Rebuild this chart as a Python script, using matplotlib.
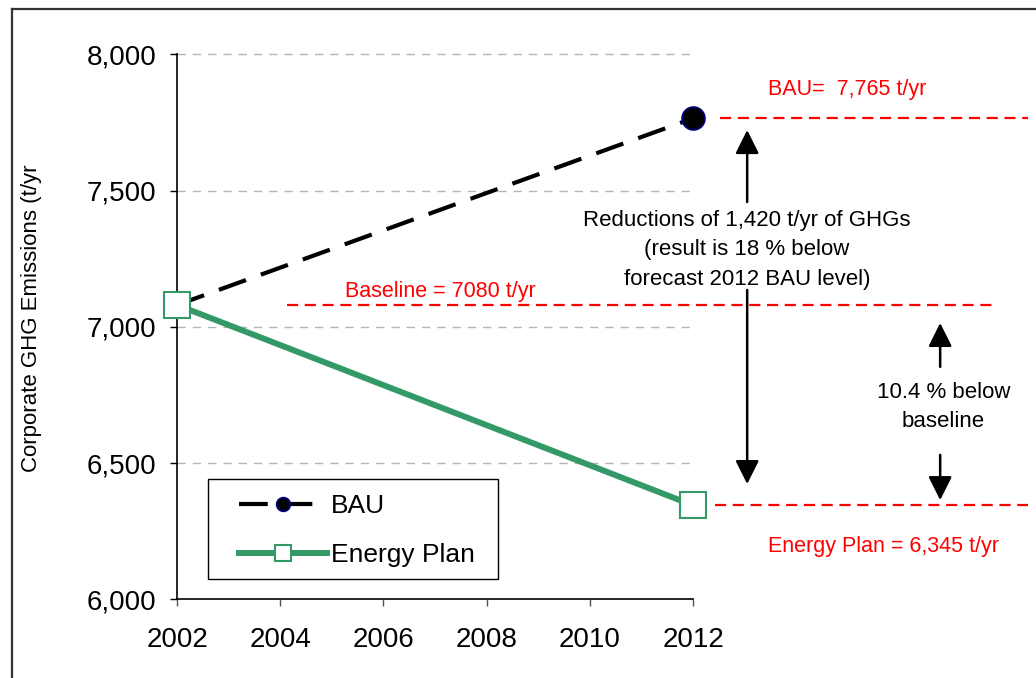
import matplotlib
matplotlib.use('Agg')
import matplotlib.pyplot as plt
from matplotlib.lines import Line2D
from matplotlib.patches import Rectangle
from matplotlib.ticker import FuncFormatter

plt.rcParams['font.family'] = ['Liberation Sans', 'DejaVu Sans']

# data
years = [2002, 2012]
bau = [7080, 7765]
plan = [7080, 6345]
baseline = 7080
y_ticks = [6000, 6500, 7000, 7500, 8000]
x_ticks = [2002, 2004, 2006, 2008, 2010, 2012]

W, H = 1036, 678
fig = plt.figure(figsize=(W / 100, H / 100), dpi=100)
ax = fig.add_axes([177 / W, 1 - 599.3 / H, (693 - 177) / W, (599.3 - 54.3) / H])

# outer frame of the original chart (cropped on right and bottom)
fig.add_artist(Line2D([12 / W, 12 / W], [1 - 9 / H, 0], transform=fig.transFigure,
                      color='#333333', lw=1.6))
fig.add_artist(Line2D([12 / W, 1], [1 - 9 / H, 1 - 9 / H], transform=fig.transFigure,
                      color='#333333', lw=1.6))

ax.set_xlim(2002, 2012)
ax.set_ylim(6000, 8000)

# gridlines
for v in y_ticks[1:]:
    ax.axhline(v, color='#b4b4b4', lw=1, dashes=(6, 5), zorder=0, clip_on=False)

# series
ax.plot(years, bau, color='black', lw=3.0, dashes=(6.9, 3.8), marker='o', markersize=16.5,
        markerfacecolor='black', markeredgecolor='#000080', markeredgewidth=1.2,
        label='BAU', clip_on=False, zorder=3)
ax.plot(years, plan, color='#339966', lw=4.3, marker='s', markersize=19,
        markerfacecolor='white', markeredgecolor='#339966', markeredgewidth=1.5,
        label='Energy Plan', clip_on=False, zorder=4)

# red reference lines
red_dash = dict(color='red', lw=1.6, dashes=(5, 3), clip_on=False, zorder=2)
ax.plot([2012.52, 2018.49], [bau[1], bau[1]], **red_dash)
ax.plot([2004.13, 2017.81], [baseline, baseline], **red_dash)
ax.plot([2012.43, 2018.49], [plan[1], plan[1]], **red_dash)

ax.text(2013.45, 7870, 'BAU=  7,765 t/yr', color='red', fontsize=15.5,
        ha='left', va='center', clip_on=False)
ax.text(2005.26, 7128, 'Baseline = 7080 t/yr', color='red', fontsize=15.5,
        ha='left', va='center', clip_on=False)
ax.text(2013.45, 6192, 'Energy Plan = 6,345 t/yr', color='red', fontsize=15.5,
        ha='left', va='center', clip_on=False)

# arrows and notes
arr = dict(arrowstyle='-|>,head_length=0.9,head_width=0.45', color='black', lw=1.8,
           mutation_scale=16, shrinkA=0, shrinkB=0)
ax.annotate('', xy=(2013.05, 7722), xytext=(2013.05, 7458), arrowprops=arr, annotation_clip=False)
ax.annotate('', xy=(2013.05, 6423), xytext=(2013.05, 7135), arrowprops=arr, annotation_clip=False)
ax.annotate('', xy=(2016.79, 7014), xytext=(2016.79, 6853), arrowprops=arr, annotation_clip=False)
ax.annotate('', xy=(2016.79, 6364), xytext=(2016.79, 6530), arrowprops=arr, annotation_clip=False)

ax.text(2013.05, 7283, 'Reductions of 1,420 t/yr of GHGs\n(result is 18 % below\nforecast 2012 BAU level)',
        ha='center', va='center', fontsize=16, linespacing=1.53, clip_on=False)
ax.text(2016.85, 6706, '10.4 % below\nbaseline', ha='center', va='center',
        fontsize=16, linespacing=1.53, clip_on=False)

# axes styling
for s in ['top', 'right']:
    ax.spines[s].set_visible(False)
ax.spines['left'].set_linewidth(1.2)
ax.spines['bottom'].set_linewidth(1.2)
ax.set_yticks(y_ticks)
ax.set_xticks(x_ticks)
ax.yaxis.set_major_formatter(FuncFormatter(lambda v, p: '{:,.0f}'.format(v)))
ax.tick_params(axis='y', direction='out', length=5, width=1, labelsize=20, pad=10)
ax.tick_params(axis='x', direction='out', length=5, width=1, color='#555555',
               labelsize=20, pad=15)

fig.text(32 / W, 1 - 318 / H, 'Corporate GHG Emissions (t/yr', rotation=90,
         ha='center', va='center', fontsize=16)

# legend: frame drawn separately so the padding matches the original
ax.add_patch(Rectangle((208 / W, 1 - 579 / H), (498 - 208) / W, 100 / H,
                       transform=fig.transFigure, facecolor='white',
                       edgecolor='black', lw=1, zorder=5, clip_on=False))
leg = ax.legend(loc='upper left', bbox_to_anchor=(239 / W, 1 - 494 / H),
                bbox_transform=fig.transFigure, borderaxespad=0, borderpad=0,
                fontsize=19, numpoints=1, markerscale=0.6, handlelength=3.34,
                handletextpad=0.15, labelspacing=0.95, frameon=False)
leg.set_zorder(6)

fig.savefig('out.png', dpi=100)
